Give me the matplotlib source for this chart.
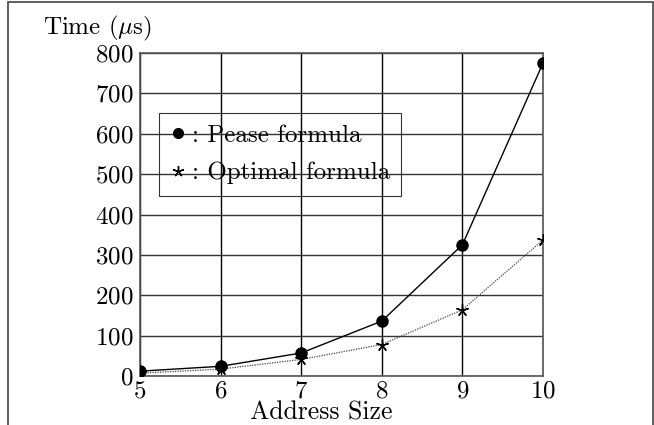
import matplotlib.pyplot as plt
from matplotlib.lines import Line2D
from matplotlib.patches import Rectangle

# data
address_size = [5, 6, 7, 8, 9, 10]
pease_time = [12, 24, 57, 136, 325, 775]
optimal_time = [7, 17, 41, 78, 164, 337]
y_ticks = [0, 100, 200, 300, 400, 500, 600, 700, 800]

plt.rcParams['font.family'] = 'serif'
plt.rcParams['font.serif'] = ['cmr10', 'DejaVu Serif']
plt.rcParams['mathtext.fontset'] = 'cm'
plt.rcParams['axes.formatter.use_mathtext'] = True

FS = 18

fig = plt.figure(figsize=(6.54, 4.25), dpi=100)
ax = fig.add_axes([140 / 654, 1 - 376 / 425, 403 / 654, 323 / 425])

# outer frame, open at the bottom
fig.patches.append(Rectangle((8 / 654, -0.1), 645 / 654, 1.1 - 2 / 425,
                             transform=fig.transFigure, fill=False,
                             edgecolor='#444444', linewidth=1.2))

ax.plot(address_size, pease_time, color='black', linewidth=1.0,
        marker='o', markersize=8, zorder=3)
ax.plot(address_size, optimal_time, color='#444444', linewidth=0.9,
        linestyle=(0, (1, 1)), marker=(5, 2, 0), markersize=9,
        markeredgewidth=1.0, markeredgecolor='black', zorder=3)

ax.set_xlim(5, 10)
ax.set_ylim(0, 800)
ax.set_xticks(address_size)
ax.set_yticks(y_ticks)
ax.tick_params(length=0, labelsize=FS, pad=3)
ax.tick_params(axis='y', pad=5)
ax.grid(True, color='black', linewidth=1.0)
ax.set_axisbelow(True)
for s in ax.spines.values():
    s.set_color('#555555')
    s.set_linewidth(1.2)
for gl in ax.get_ygridlines():
    gl.set_color('#333333')

fig.text(43 / 654, 1 - 28 / 425, r'Time ($\mu$s)', fontsize=FS, va='center')
fig.text(321 / 654, 1 - 413 / 425, 'Address Size', fontsize=18.5,
         ha='center', va='center')

handles = [Line2D([], [], color='black', marker='o', linestyle='none', markersize=7),
           Line2D([], [], color='black', marker=(5, 2, 0), linestyle='none',
                  markersize=8, markeredgewidth=1.0)]
leg = ax.legend(handles, [': Pease formula', ': Optimal formula'],
                loc='upper left', bbox_to_anchor=(19 / 403, (376 - 113) / 323),
                fontsize=FS, fancybox=False, edgecolor='black',
                handlelength=0.6, handletextpad=0.25, borderpad=0.45,
                labelspacing=0.6, borderaxespad=0)
leg.get_frame().set_facecolor('none')
leg.get_frame().set_linewidth(0.8)

fig.savefig('out.png', dpi=100)
